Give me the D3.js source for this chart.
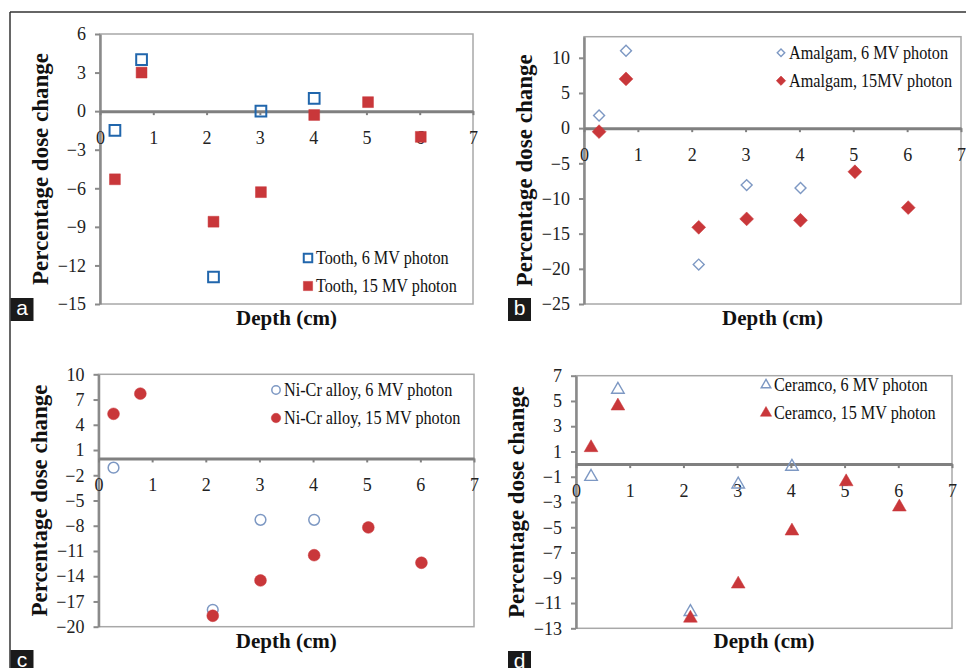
<!DOCTYPE html>
<html>
<head>
<meta charset="utf-8">
<script src="https://cdn.jsdelivr.net/npm/d3@7"></script>
<style>
  body { margin: 0; background: #fff; }
  svg { display: block; }
  .tick text { font-family: "Liberation Serif", "Times New Roman", serif; font-size: 18px; fill: #222; }
  .title { font-family: "Liberation Serif", "Times New Roman", serif; font-weight: bold; fill: #111; }
  .legend text { font-family: "Liberation Serif", "Times New Roman", serif; font-size: 18px; fill: #111; }
</style>
</head>
<body>
<div id="chart"></div>
<script>
// depth (cm) of each measurement
const depth = [0.28, 0.78, 2.13, 3.02, 4.02, 5.03, 6.02];

// percentage dose change, null = no visible point
const tooth6 = [-1.5, 4.0, -12.9, 0.0, 1.0, null, null];
const tooth15 = [-5.3, 3.0, -8.6, -6.3, -0.3, 0.7, -2.0];
const amalgam6 = [1.8, 11.0, -19.4, -8.1, -8.5, null, null];
const amalgam15 = [-0.5, 7.0, -14.1, -12.9, -13.1, -6.2, -11.3];
const nicr6 = [-1.1, null, -18.0, -7.3, -7.3, null, null];
const nicr15 = [5.3, 7.7, -18.7, -14.5, -11.5, -8.2, -12.4];
const ceramco6 = [-1.0, 5.9, -11.7, -1.6, -0.2, null, null];
const ceramco15 = [1.3, 4.6, -12.2, -9.5, -5.3, -1.4, -3.4];

const xTicks = [0, 1, 2, 3, 4, 5, 6, 7];
const yTicksA = [6, 3, 0, -3, -6, -9, -12, -15];
const yTicksB = [10, 5, 0, -5, -10, -15, -20, -25];
const yTicksC = [10, 7, 4, 1, -2, -5, -8, -11, -14, -17, -20];
const yTicksD = [7, 5, 3, 1, -1, -3, -5, -7, -9, -11, -13];

const blue = "#2166ac", pale = "#7d98c3", red = "#c9373a";

const width = 966, height = 668;
const svg = d3.select("#chart").append("svg")
  .attr("width", width).attr("height", height);

// outer frame (top and left edges only are visible)
svg.append("line").attr("x1", 10).attr("x2", 966).attr("y1", 12).attr("y2", 12)
  .attr("stroke", "#333").attr("stroke-width", 1.5);
svg.append("line").attr("x1", 10).attr("x2", 10).attr("y1", 12).attr("y2", 668)
  .attr("stroke", "#333").attr("stroke-width", 1.5);

const panels = [
  {
    letter: "a", box: [10.5, 298], plot: { l: 100, r: 473, t: 34, b: 304 },
    yDomain: [-15, 6], yTicks: yTicksA, titleY: 325,
    legend: { x: 308, y: 258 },
    series: [
      { label: "Tooth, 6 MV photon", values: tooth6, shape: "square", fill: "none", stroke: blue, size: 115, sw: 2, lsize: 72 },
      { label: "Tooth, 15 MV photon", values: tooth15, shape: "square", fill: red, stroke: red, size: 118, sw: 0.5, lsize: 85 },
    ],
  },
  {
    letter: "b", box: [508, 298], plot: { l: 584, r: 961, t: 36.7, b: 304 },
    yDomain: [-25, 13], yTicks: yTicksB, titleY: 325,
    legend: { x: 781, y: 52.7 },
    series: [
      { label: "Amalgam, 6 MV photon", values: amalgam6, shape: "diamond", fill: "none", stroke: pale, size: 60, sw: 1.4, lsize: 28 },
      { label: "Amalgam, 15MV photon", values: amalgam15, shape: "diamond", fill: red, stroke: red, size: 96, sw: 0.5, lsize: 44 },
    ],
  },
  {
    letter: "c", box: [10.5, 650], plot: { l: 98.5, r: 474, t: 374.3, b: 626.7 },
    yDomain: [-20, 10], yTicks: yTicksC, titleY: 648,
    legend: { x: 276, y: 390 },
    series: [
      { label: "Ni-Cr alloy, 6 MV photon", values: nicr6, shape: "circle", fill: "none", stroke: pale, size: 90, sw: 1.5, lsize: 55 },
      { label: "Ni-Cr alloy, 15 MV photon", values: nicr15, shape: "circle", fill: red, stroke: red, size: 110, sw: 0.5, lsize: 70 },
    ],
  },
  {
    letter: "d", box: [508, 651], plot: { l: 576, r: 952, t: 375.7, b: 628.3 },
    yDomain: [-13, 7], yTicks: yTicksD, titleY: 648,
    legend: { x: 766, y: 385 },
    series: [
      { label: "Ceramco, 6 MV photon", values: ceramco6, shape: "triangle", fill: "none", stroke: pale, size: 68, sw: 1.4, lsize: 40 },
      { label: "Ceramco, 15 MV photon", values: ceramco15, shape: "triangle", fill: red, stroke: red, size: 82, sw: 0.5, lsize: 55 },
    ],
  },
];

const symbolTypes = {
  square: d3.symbolSquare,
  diamond: d3.symbolSquare, // rotated 45 degrees below
  circle: d3.symbolCircle,
  triangle: d3.symbolTriangle,
};

function markerPath(s, size) {
  return d3.symbol().type(symbolTypes[s.shape]).size(size)();
}

panels.forEach((p) => {
  const g = svg.append("g");
  const x = d3.scaleLinear().domain([0, 7]).range([p.plot.l, p.plot.r]);
  const y = d3.scaleLinear().domain(p.yDomain).range([p.plot.b, p.plot.t]);

  // plot area frame
  g.append("rect")
    .attr("x", p.plot.l).attr("y", p.plot.t)
    .attr("width", p.plot.r - p.plot.l).attr("height", p.plot.b - p.plot.t)
    .attr("fill", "none").attr("stroke", "#a8a8a8").attr("stroke-width", 1.5);

  // y axis
  const yAxis = g.append("g")
    .attr("transform", `translate(${p.plot.l},0)`)
    .call(d3.axisLeft(y).tickValues(p.yTicks).tickSize(5).tickSizeOuter(0).tickPadding(9).tickFormat(d3.format("d")));
  yAxis.select(".domain").attr("stroke", "#8a8a8a").attr("stroke-width", 2.5);
  yAxis.selectAll(".tick line").attr("stroke", "#8a8a8a").attr("stroke-width", 2);
  yAxis.selectAll(".tick text").attr("font-family", null).attr("font-size", null);

  // x axis crossing at zero
  const xAxis = g.append("g")
    .attr("transform", `translate(0,${y(0)})`)
    .call(d3.axisBottom(x).tickValues(xTicks).tickSize(4).tickSizeOuter(0).tickPadding(16).tickFormat(d3.format("d")));
  xAxis.select(".domain").attr("stroke", "#808080").attr("stroke-width", 3);
  xAxis.selectAll(".tick line").attr("stroke", "#808080").attr("stroke-width", 2);
  xAxis.selectAll(".tick text").attr("font-family", null).attr("font-size", null);

  // axis titles
  g.append("text").attr("class", "title")
    .attr("x", (p.plot.l + p.plot.r) / 2).attr("y", p.titleY)
    .attr("text-anchor", "middle").attr("font-size", 21)
    .text("Depth (cm)");
  const cy = (p.plot.t + p.plot.b) / 2;
  g.append("text").attr("class", "title")
    .attr("transform", `translate(${p.plot.l - 52},${cy}) rotate(-90)`)
    .attr("text-anchor", "middle").attr("font-size", 23)
    .text("Percentage dose change");

  // markers
  p.series.forEach((s) => {
    const pts = depth.map((d, i) => ({ d, v: s.values[i] })).filter((o) => o.v !== null);
    g.selectAll(null).data(pts).enter().append("path")
      .attr("d", markerPath(s, s.size))
      .attr("transform", (o) => `translate(${x(o.d)},${y(o.v)})` + (s.shape === "diamond" ? " rotate(45)" : ""))
      .attr("fill", s.fill).attr("stroke", s.stroke).attr("stroke-width", s.sw);
  });

  // legend
  const lg = g.append("g").attr("class", "legend");
  p.series.forEach((s, i) => {
    const ly = p.legend.y + i * 28;
    lg.append("path")
      .attr("d", markerPath(s, s.lsize))
      .attr("transform", `translate(${p.legend.x},${ly})` + (s.shape === "diamond" ? " rotate(45)" : ""))
      .attr("fill", s.fill).attr("stroke", s.stroke).attr("stroke-width", s.sw);
    const t = lg.append("text")
      .attr("x", p.legend.x + 8).attr("y", ly + 6)
      .text(s.label);
    const w = t.node().getComputedTextLength();
    t.attr("textLength", w * 0.9).attr("lengthAdjust", "spacingAndGlyphs");
  });

  // panel letter
  svg.append("rect").attr("x", p.box[0]).attr("y", p.box[1])
    .attr("width", 23).attr("height", 23).attr("fill", "#1a1a1a");
  svg.append("text").attr("x", p.box[0] + 11.5).attr("y", p.box[1] + 17)
    .attr("text-anchor", "middle")
    .attr("font-family", "'Liberation Sans', Arial, sans-serif").attr("font-size", 21)
    .attr("fill", "#fff").text(p.letter);
});
</script>
</body>
</html>
